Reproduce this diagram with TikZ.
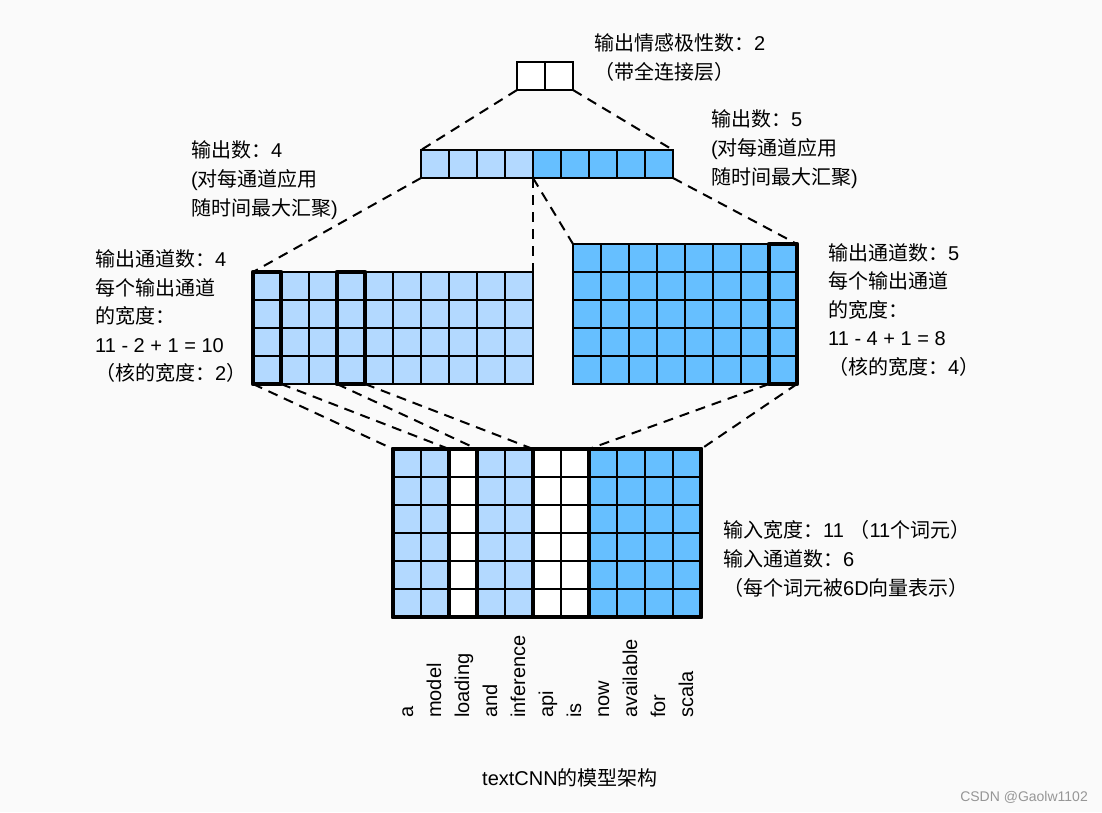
\documentclass[tikz,border=0pt]{standalone}
\usepackage{fontspec}
\setmainfont{Liberation Sans}
\newfontfamily\cjk{Noto Sans CJK SC}
\newcommand{\zhtxt}[1]{{\cjk #1}}
\definecolor{lightcell}{RGB}{179,217,255}
\definecolor{darkcell}{RGB}{102,191,255}
\definecolor{bgcolor}{RGB}{250,250,250}
\definecolor{markgray}{RGB}{150,150,150}

\begin{document}
\begin{tikzpicture}[
        x=1pt, y=-1pt, % one unit = one pixel of the sketch
        cell/.style={draw, line width=2pt, minimum size=28pt, inner sep=0pt, outer sep=0pt}, % grid squares
        kernel/.style={draw, line width=4.5pt, line join=round}, % thick window frames
        link/.style={draw, line width=2pt, dash pattern=on 10pt off 7pt},
        lbl/.style={anchor=west, inner sep=0pt, align=left, font=\fontsize{20}{29}\selectfont},
        word/.style={rotate=90, anchor=base west, inner sep=0pt, font=\fontsize{20}{24}\selectfont},
    ]
    \fill[bgcolor] (0,0) rectangle (1102,812);
    \useasboundingbox (0,0) rectangle (1102,812);

    % input: 11 tokens x 6 channels
    \foreach \c/\col in {0/lightcell,1/lightcell,2/white,3/lightcell,4/lightcell,5/white,6/white,7/darkcell,8/darkcell,9/darkcell,10/darkcell}
        \foreach \r in {0,...,5}
            \node[cell, fill=\col] (in-\c-\r) at (407+28*\c, 463+28*\r) {};
    \draw[kernel] (in-0-0.north west) rectangle (in-10-5.south east);
    \draw[kernel] (in-0-0.north west) rectangle (in-1-5.south east);
    \draw[kernel] (in-3-0.north west) rectangle (in-4-5.south east);
    \draw[kernel] (in-7-0.north west) rectangle (in-10-5.south east);

    % convolution outputs
    \foreach \c in {0,...,9}
        \foreach \r in {0,...,3}
            \node[cell, fill=lightcell] (lc-\c-\r) at (267+28*\c, 286+28*\r) {};
    \draw[kernel] (lc-0-0.north west) rectangle (lc-0-3.south east);
    \draw[kernel] (lc-3-0.north west) rectangle (lc-3-3.south east);

    \foreach \c in {0,...,7}
        \foreach \r in {0,...,4}
            \node[cell, fill=darkcell] (rc-\c-\r) at (587+28*\c, 258+28*\r) {};
    \draw[kernel] (rc-7-0.north west) rectangle (rc-7-4.south east);

    % pooling and output
    \foreach \c/\col in {0/lightcell,1/lightcell,2/lightcell,3/lightcell,4/darkcell,5/darkcell,6/darkcell,7/darkcell,8/darkcell}
        \node[cell, fill=\col] (pl-\c) at (435+28*\c, 164) {};
    \foreach \c in {0,1}
        \node[cell, fill=white] (out-\c) at (531+28*\c, 76) {};

    % dashed connections
    \draw[link] (out-0.south west) -- (pl-0.north west);
    \draw[link] (out-1.south east) -- (pl-8.north east);
    \draw[link] (pl-0.south west) -- (lc-0-0.north west);
    \draw[link] (pl-4.south west) -- (lc-9-0.north east);
    \draw[link] (pl-4.south west) -- (rc-0-0.north west);
    \draw[link] (pl-8.south east) -- (rc-7-0.north east);
    \draw[link] (lc-0-3.south west) -- (in-0-0.north west);
    \draw[link] (lc-0-3.south east) -- (in-2-0.north west);
    \draw[link] (lc-3-3.south west) -- (in-3-0.north west);
    \draw[link] (lc-3-3.south east) -- (in-5-0.north west);
    \draw[link] (rc-7-4.south west) -- (in-7-0.north west);
    \draw[link] (rc-7-4.south east) -- (in-10-0.north east);

    % labels
    \node[lbl] (outTxt) at (594,57.5) {\zhtxt{输出情感极性数：}2\\\zhtxt{（带全连接层）}};
    \node[lbl] (plLeftTxt) at (191,180) {\zhtxt{输出数：}4\\(\zhtxt{对每通道应用}\\\zhtxt{随时间最大汇聚})};
    \node[lbl] (plRightTxt) at (711,149.5) {\zhtxt{输出数：}5\\(\zhtxt{对每通道应用}\\\zhtxt{随时间最大汇聚})};
    \node[lbl, font=\fontsize{20}{28.5}\selectfont] (lcTxt) at (95,316.5)
        {\zhtxt{输出通道数：}4\\\zhtxt{每个输出通道}\\\zhtxt{的宽度：}\\11 - 2 + 1 = 10\\\zhtxt{（核的宽度：}2\zhtxt{）}};
    \node[lbl, font=\fontsize{20}{28.5}\selectfont] (rcTxt) at (828,310)
        {\zhtxt{输出通道数：}5\\\zhtxt{每个输出通道}\\\zhtxt{的宽度：}\\11 - 4 + 1 = 8\\\zhtxt{（核的宽度：}4\zhtxt{）}};
    \node[lbl] (inTxt) at (723,559)
        {\zhtxt{输入宽度：}11 \zhtxt{（}11\zhtxt{个词元）}\\\zhtxt{输入通道数：}6\\\zhtxt{（每个词元被}6D\zhtxt{向量表示）}};

    % tokens under the input columns
    \foreach \w [count=\i from 0] in {a,model,loading,and,inference,api,is,now,available,for,scala}
        \node[word] (w-\i) at (413+28*\i, 718) {\w};

    \node[inner sep=0pt, font=\fontsize{20}{24}\selectfont] (caption) at (570,778) {textCNN\zhtxt{的模型架构}};
    \node[anchor=east, inner sep=0pt, text=markgray, font=\fontsize{14}{17}\selectfont] (mark) at (1088,797) {CSDN @Gaolw1102};
\end{tikzpicture}
\end{document}
